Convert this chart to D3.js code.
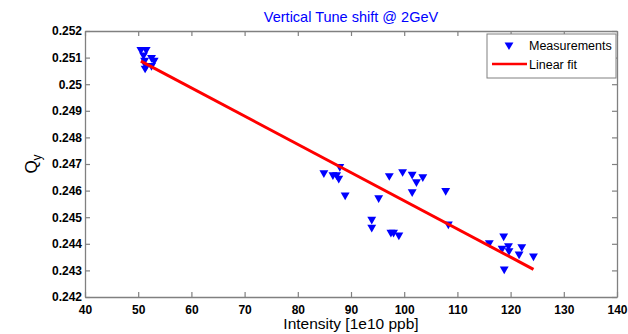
<!DOCTYPE html>
<html>
<head>
<meta charset="utf-8">
<script src="https://cdn.jsdelivr.net/npm/d3@7"></script>
<style>
  body { margin: 0; background: #fff; }
  text { font-family: "Liberation Sans", Arial, sans-serif; }
</style>
</head>
<body>
<div id="chart"></div>
<script>
// vertical tune vs bunch intensity, measurements + linear fit

const intensity = [50.5, 51.5, 51.0, 51.2, 52.5, 53.0, 51.5, 52.5, 51.3,
  84.9, 86.6, 87.3, 87.7, 87.9, 88.9, 93.9, 93.9, 95.2, 97.2, 97.5, 98.0, 99.0,
  99.7, 101.5, 102.3, 103.5, 101.5, 107.8, 108.3,
  116.0, 118.7, 118.4, 119.6, 119.7, 122.1, 121.6, 124.3, 118.8];
const tuneQy = [0.2513, 0.2513, 0.2511, 0.2509, 0.2510, 0.2509, 0.2507, 0.2507, 0.2506,
  0.24667, 0.24659, 0.24659, 0.24646, 0.2469, 0.24583, 0.24492, 0.24462, 0.24573, 0.24656, 0.24443, 0.24443, 0.24433,
  0.24671, 0.24661, 0.24633, 0.24652, 0.24595, 0.2460, 0.24474,
  0.24404, 0.24429, 0.24383, 0.24392, 0.24374, 0.24389, 0.24361, 0.24354, 0.24305];

const fitX = [50.5, 124.3];
const fitY = [0.25087, 0.24304];

const xTicks = [40, 50, 60, 70, 80, 90, 100, 110, 120, 130, 140];
const yTicks = [0.242, 0.243, 0.244, 0.245, 0.246, 0.247, 0.248, 0.249, 0.25, 0.251, 0.252];

const W = 628, H = 334;
const margin = { left: 85, right: 11, top: 31, bottom: 37 };

const svg = d3.select('#chart').append('svg')
  .attr('width', W)
  .attr('height', H);

const x = d3.scaleLinear().domain([40, 140]).range([margin.left, W - margin.right]);
const y = d3.scaleLinear().domain([0.242, 0.252]).range([H - margin.bottom, margin.top]);

const axisColor = '#808080';
const tickLen = 5;

// axes with inward ticks, boxed
const gx = svg.append('g')
  .attr('transform', `translate(0,${H - margin.bottom})`)
  .call(d3.axisBottom(x).tickValues(xTicks).tickSizeInner(-tickLen).tickSizeOuter(0).tickPadding(8).tickFormat(d3.format('d')));
const gxTop = svg.append('g')
  .attr('transform', `translate(0,${margin.top})`)
  .call(d3.axisTop(x).tickValues(xTicks).tickSizeInner(-tickLen).tickSizeOuter(0).tickFormat(''));
const gy = svg.append('g')
  .attr('transform', `translate(${margin.left},0)`)
  .call(d3.axisLeft(y).tickValues(yTicks).tickSizeInner(-tickLen).tickSizeOuter(0).tickPadding(3).tickFormat(d => d3.format('')(+d.toFixed(3))));
const gyRight = svg.append('g')
  .attr('transform', `translate(${W - margin.right},0)`)
  .call(d3.axisRight(y).tickValues(yTicks).tickSizeInner(-tickLen).tickSizeOuter(0).tickFormat(''));

[gx, gxTop, gy, gyRight].forEach(g => {
  g.selectAll('path').attr('stroke', axisColor).attr('stroke-width', 1.3);
  g.selectAll('line').attr('stroke', axisColor).attr('stroke-width', 1.2);
  g.selectAll('text').attr('fill', '#000').style('font-size', '12px').style('font-weight', 'bold');
});

// measurements: downward triangles
const tri = d3.symbol().type(d3.symbolTriangle).size(34);
svg.append('g')
  .selectAll('path')
  .data(intensity.map((v, i) => [v, tuneQy[i]]))
  .enter()
  .append('path')
  .attr('d', tri)
  .attr('transform', d => `translate(${x(d[0])},${y(d[1])}) rotate(180)`)
  .attr('fill', '#0000ff');

// linear fit
svg.append('path')
  .datum(fitX.map((v, i) => [v, fitY[i]]))
  .attr('fill', 'none')
  .attr('stroke', '#ff0000')
  .attr('stroke-width', 3)
  .attr('d', d3.line().x(d => x(d[0])).y(d => y(d[1])));

// title and labels
svg.append('text')
  .attr('x', (margin.left + W - margin.right) / 2)
  .attr('y', 22)
  .attr('text-anchor', 'middle')
  .attr('fill', '#0000ff')
  .style('font-size', '14.5px')
  .text('Vertical Tune shift @ 2GeV');

svg.append('text')
  .attr('x', (margin.left + W - margin.right) / 2)
  .attr('y', 329)
  .attr('text-anchor', 'middle')
  .style('font-size', '15.5px')
  .text('Intensity [1e10 ppb]');

const yl = svg.append('text')
  .attr('transform', `translate(37,${(margin.top + H - margin.bottom) / 2}) rotate(-90)`)
  .attr('text-anchor', 'middle')
  .style('font-size', '17px');
yl.append('tspan').text('Q');
yl.append('tspan').attr('dy', 4).style('font-size', '12px').text('y');

// legend
const lg = svg.append('g').attr('transform', 'translate(487,34)');
lg.append('rect')
  .attr('width', 129).attr('height', 44)
  .attr('fill', '#fff').attr('stroke', axisColor).attr('stroke-width', 1);
lg.append('path')
  .attr('d', tri)
  .attr('transform', 'translate(22,11) rotate(180)')
  .attr('fill', '#0000ff');
lg.append('text').attr('x', 42).attr('y', 16).style('font-size', '12.5px').text('Measurements');
lg.append('line')
  .attr('x1', 5).attr('x2', 40).attr('y1', 30).attr('y2', 30)
  .attr('stroke', '#ff0000').attr('stroke-width', 2.5);
lg.append('text').attr('x', 42).attr('y', 35).style('font-size', '12.5px').text('Linear fit');
</script>
</body>
</html>
